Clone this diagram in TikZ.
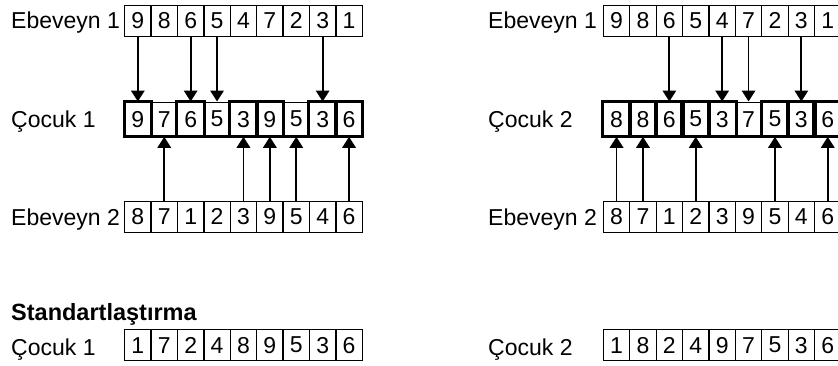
\documentclass[tikz,border=0pt]{standalone}
\usepackage{fontspec}
\setmainfont{Liberation Sans}
\usetikzlibrary{arrows.meta}

\tikzset{
  cell/.style={draw, line width=1.3pt, minimum width=26.4pt, minimum height=31pt,
               inner sep=0pt, anchor=north west},
  kidcell/.style={cell, minimum height=34pt},
  bold box/.style={line width=3pt},
  label/.style={anchor=base west, inner sep=0pt},
  arr/.style={line width=1.8pt, -{Triangle[width=13.5pt,length=11pt]}},
}

\begin{document}
\begin{tikzpicture}[x=1pt,y=-1pt,font=\fontsize{23}{27}\selectfont]
\useasboundingbox (0,0) rectangle (838,365);

% ---------- left block: first child ----------
\node[label] (la1) at (11,28.5) {Ebeveyn 1};
\node[label] (lc1) at (11,127) {Çocuk 1};
\node[label] (la2) at (11,225) {Ebeveyn 2};
\node[label, font=\fontsize{23.5}{27}\selectfont\bfseries] (lst) at (11,320) {Standartlaştırma};
\node[label] (ls1) at (11,355) {Çocuk 1};

\foreach \d [count=\i] in {9,8,6,5,4,7,2,3,1}
  \node[cell] (A1-\i) at ({124+26.4*(\i-1)},4.6) {\d};
\foreach \d [count=\i] in {9,7,6,5,3,9,5,3,6}
  \node[kidcell] (C1-\i) at ({124+26.4*(\i-1)},101.5) {\d};
\foreach \d [count=\i] in {8,7,1,2,3,9,5,4,6}
  \node[cell] (B1-\i) at ({124+26.4*(\i-1)},200.8) {\d};
\foreach \d [count=\i] in {1,7,2,4,8,9,5,3,6}
  \node[cell] (S1-\i) at ({124+26.4*(\i-1)},329) {\d};

% highlighted cells of the first child
\foreach \i in {1,3,5,6,8,9}
  \draw[bold box] (C1-\i.north west) rectangle (C1-\i.south east);
\draw[bold box] (C1-1.south west) -- (C1-9.south east);

% genes taken from each parent
\foreach \i in {1,3,4,8}
  \draw[arr] (A1-\i.south) -- (C1-\i.north);
\foreach \i in {2,5,6,7,9}
  \draw[arr] (B1-\i.north) -- (C1-\i.south);

% ---------- right block: second child ----------
\node[label] (ra1) at (488,28.5) {Ebeveyn 1};
\node[label] (rc2) at (488,127) {Çocuk 2};
\node[label] (ra2) at (488,225) {Ebeveyn 2};
\node[label] (rs2) at (488,355) {Çocuk 2};

\foreach \d [count=\i] in {9,8,6,5,4,7,2,3,1}
  \node[cell] (A2-\i) at ({602.7+26.4*(\i-1)},4.6) {\d};
\foreach \d [count=\i] in {8,8,6,5,3,7,5,3,6}
  \node[kidcell] (C2-\i) at ({602.7+26.4*(\i-1)},101.5) {\d};
\foreach \d [count=\i] in {8,7,1,2,3,9,5,4,6}
  \node[cell] (B2-\i) at ({602.7+26.4*(\i-1)},200.8) {\d};
\foreach \d [count=\i] in {1,8,2,4,9,7,5,3,6}
  \node[cell] (S2-\i) at ({602.7+26.4*(\i-1)},329) {\d};

% highlighted cells of the second child
\foreach \i in {1,2,3,4,5,7,8,9}
  \draw[bold box] (C2-\i.north west) rectangle (C2-\i.south east);
\draw[bold box] (C2-1.south west) -- (C2-9.south east);

\foreach \i in {3,5,6,8}
  \draw[arr] (A2-\i.south) -- (C2-\i.north);
\foreach \i in {1,2,4,7,9}
  \draw[arr] (B2-\i.north) -- (C2-\i.south);
\end{tikzpicture}
\end{document}
